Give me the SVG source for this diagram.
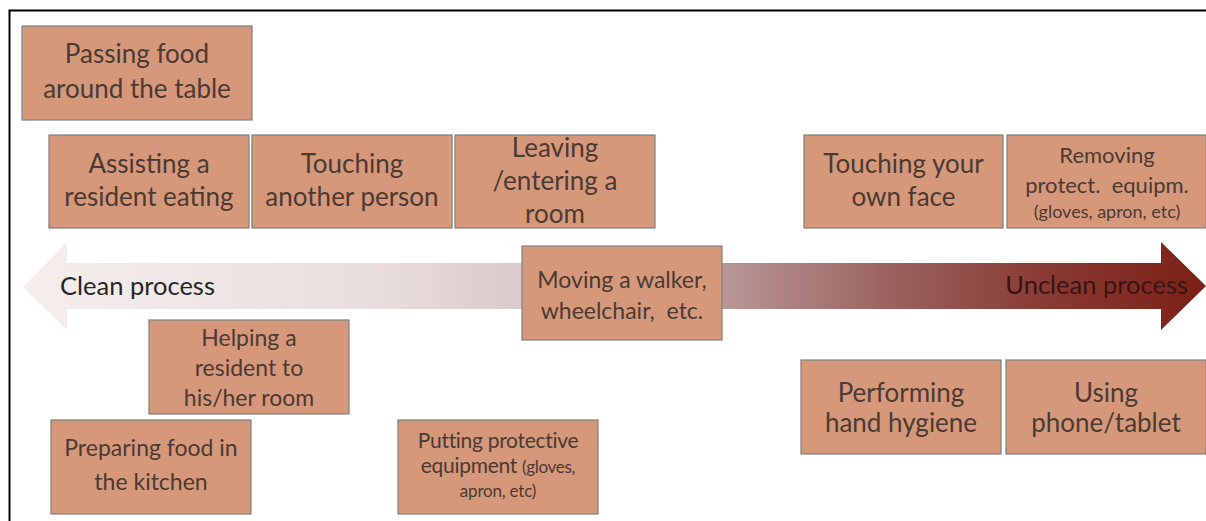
<svg xmlns="http://www.w3.org/2000/svg" width="1206" height="521" viewBox="0 0 1206 521">
<style>
.box{fill:#d5987b;stroke:#7f7f7f;stroke-width:1.2}
.t{font-family:Lato,"Liberation Sans",sans-serif;fill:#4b3a33;text-anchor:middle}
.lbl{font-family:Lato,"Liberation Sans",sans-serif}
.pre{white-space:pre}
</style>
<defs>
<linearGradient id="grad" gradientUnits="userSpaceOnUse" x1="23" y1="0" x2="1206" y2="0">
<stop offset="0" stop-color="#f5eeed"/>
<stop offset="0.3" stop-color="#e9dedd"/>
<stop offset="0.42" stop-color="#dbcaca"/>
<stop offset="0.6" stop-color="#b69494"/>
<stop offset="0.74" stop-color="#9a605c"/>
<stop offset="0.86" stop-color="#893b35"/>
<stop offset="1" stop-color="#7b2015"/>
</linearGradient>
</defs>
<rect width="1206" height="521" fill="#ffffff"/>
<path d="M9.5 521 V10.5 H1206" fill="none" stroke="#000000" stroke-width="2"/>
<g id="connectors">
<path d="M23 287 L67 242 L67 263 L1161 263 L1161 242 L1206 286 L1161 330 L1161 309 L67 309 L67 330 Z" fill="url(#grad)"/>
<text class="lbl" x="60" y="295" font-size="25.5" fill="#262626">Clean process</text>
<text class="lbl" x="1188" y="294" font-size="25.5" fill="#3a1410" text-anchor="end">Unclean process</text>
</g>
<g id="n-passing">
<rect class="box" x="22" y="26" width="230" height="94"/>
<text class="t" x="137" y="63" font-size="26">Passing food</text>
<text class="t" x="137" y="98" font-size="26">around the table</text>
</g>
<g id="n-assisting">
<rect class="box" x="49" y="135" width="200" height="93"/>
<text class="t" x="149" y="173" font-size="26">Assisting a</text>
<text class="t" x="149" y="206" font-size="26">resident eating</text>
</g>
<g id="n-touching-another">
<rect class="box" x="252" y="135" width="200" height="93"/>
<text class="t" x="352" y="173" font-size="26">Touching</text>
<text class="t" x="352" y="206" font-size="26">another person</text>
</g>
<g id="n-leaving">
<rect class="box" x="455" y="135" width="200" height="93"/>
<text class="t" x="555" y="157" font-size="26">Leaving</text>
<text class="t" x="555" y="190" font-size="26">/entering a</text>
<text class="t" x="555" y="223" font-size="26">room</text>
</g>
<g id="n-face">
<rect class="box" x="804" y="135" width="199" height="93"/>
<text class="t" x="903.5" y="173" font-size="26">Touching your</text>
<text class="t" x="903.5" y="206" font-size="26">own face</text>
</g>
<g id="n-removing">
<rect class="box" x="1007" y="135" width="199" height="93"/>
<text class="t" x="1107" y="163" font-size="22">Removing</text>
<text class="t pre" x="1107" y="193" font-size="22">protect.  equipm.</text>
<text class="t" x="1107" y="218" font-size="18">(gloves, apron, etc)</text>
</g>
<g id="n-moving">
<rect class="box" x="522" y="246" width="200" height="94"/>
<text class="t" x="622" y="288" font-size="23">Moving a walker,</text>
<text class="t pre" x="622" y="319" font-size="23">wheelchair,  etc.</text>
</g>
<g id="n-helping">
<rect class="box" x="149" y="320" width="200" height="94"/>
<text class="t" x="249" y="346" font-size="23">Helping a</text>
<text class="t" x="249" y="376" font-size="23">resident to</text>
<text class="t" x="249" y="406" font-size="23">his/her room</text>
</g>
<g id="n-preparing">
<rect class="box" x="51" y="420" width="200" height="94"/>
<text class="t" x="151" y="456" font-size="23">Preparing food in</text>
<text class="t" x="151" y="490" font-size="23">the kitchen</text>
</g>
<g id="n-putting">
<rect class="box" x="398" y="420" width="200" height="94"/>
<text class="t" x="498" y="448" font-size="21" letter-spacing="-0.3">Putting protective</text>
<text class="t" x="498" y="473" font-size="21" letter-spacing="-0.3">equipment <tspan font-size="17">(gloves,</tspan></text>
<text class="t" x="498" y="497" font-size="17" letter-spacing="-0.2">apron, etc)</text>
</g>
<g id="n-performing">
<rect class="box" x="801" y="360" width="200" height="94"/>
<text class="t" x="901" y="402" font-size="26">Performing</text>
<text class="t" x="901" y="432" font-size="26">hand hygiene</text>
</g>
<g id="n-using">
<rect class="box" x="1006" y="360" width="200" height="94"/>
<text class="t" x="1106" y="402" font-size="26">Using</text>
<text class="t" x="1106" y="432" font-size="26">phone/tablet</text>
</g>
</svg>
